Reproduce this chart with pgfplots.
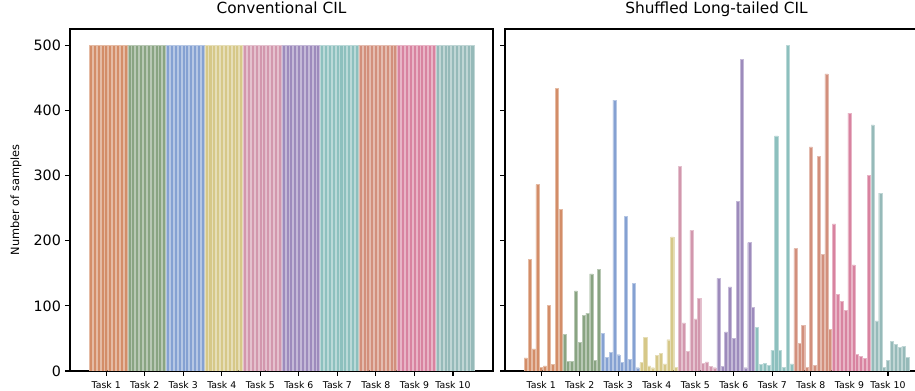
\documentclass[border=0pt]{standalone}
\usepackage{pgfplots}
\pgfplotsset{compat=1.18}
\usepackage{fontspec}
\setmainfont{DejaVu Sans}
\definecolor{t1}{RGB}{211,141,104}
\definecolor{t2}{RGB}{137,164,130}
\definecolor{t3}{RGB}{133,161,210}
\definecolor{t4}{RGB}{214,200,136}
\definecolor{t5}{RGB}{210,151,173}
\definecolor{t6}{RGB}{157,139,188}
\definecolor{t7}{RGB}{141,192,190}
\definecolor{t8}{RGB}{210,143,124}
\definecolor{t9}{RGB}{216,131,160}
\definecolor{t10}{RGB}{150,186,185}
\pgfplotsset{
  cilaxis/.style={
    scale only axis, width=317.25pt, height=256.5pt,
    anchor=south west,
    xmin=-5.39, xmax=104.39, ymin=0, ymax=525,
    xtick={4,14,24,34,44,54,64,74,84,94},
    xticklabels={Task 1,Task 2,Task 3,Task 4,Task 5,Task 6,Task 7,Task 8,Task 9,Task 10},
    ytick={0,100,200,300,400,500},
    xtick pos=bottom, ytick pos=left,
    tick align=outside, major tick length=3.65pt,
    tick style={line width=0.8pt, black},
    axis line style={line width=0.8pt},
    /pgf/number format/assume math mode=true,
    xticklabel style={font=\fontsize{7}{8}\selectfont, inner sep=1pt, yshift=-3pt},
    yticklabel style={font=\fontsize{10.7}{12}\selectfont, inner sep=1pt, xshift=-2pt},
    title style={font=\fontsize{11.5}{13}\selectfont, anchor=base, at={(0.5,1)}, yshift=5.6pt},
    every axis plot/.append style={ybar, bar shift=0pt, bar width=0.8, line width=0.3pt},
  }
}
\begin{document}
\begin{tikzpicture}
\begin{axis}[cilaxis, at={(52.5pt,-278.25pt)}, title={Conventional CIL},
  ylabel={Number of samples},
  ylabel style={font=\fontsize{8.5}{10}\selectfont, at={(axis description cs:-0.1277,0.5)}, anchor=center}]
\addplot[fill=t1, draw=t1!60!white] coordinates {(0,500)(1,500)(2,500)(3,500)(4,500)(5,500)(6,500)(7,500)(8,500)(9,500)};
\addplot[fill=t2, draw=t2!60!white] coordinates {(10,500)(11,500)(12,500)(13,500)(14,500)(15,500)(16,500)(17,500)(18,500)(19,500)};
\addplot[fill=t3, draw=t3!60!white] coordinates {(20,500)(21,500)(22,500)(23,500)(24,500)(25,500)(26,500)(27,500)(28,500)(29,500)};
\addplot[fill=t4, draw=t4!60!white] coordinates {(30,500)(31,500)(32,500)(33,500)(34,500)(35,500)(36,500)(37,500)(38,500)(39,500)};
\addplot[fill=t5, draw=t5!60!white] coordinates {(40,500)(41,500)(42,500)(43,500)(44,500)(45,500)(46,500)(47,500)(48,500)(49,500)};
\addplot[fill=t6, draw=t6!60!white] coordinates {(50,500)(51,500)(52,500)(53,500)(54,500)(55,500)(56,500)(57,500)(58,500)(59,500)};
\addplot[fill=t7, draw=t7!60!white] coordinates {(60,500)(61,500)(62,500)(63,500)(64,500)(65,500)(66,500)(67,500)(68,500)(69,500)};
\addplot[fill=t8, draw=t8!60!white] coordinates {(70,500)(71,500)(72,500)(73,500)(74,500)(75,500)(76,500)(77,500)(78,500)(79,500)};
\addplot[fill=t9, draw=t9!60!white] coordinates {(80,500)(81,500)(82,500)(83,500)(84,500)(85,500)(86,500)(87,500)(88,500)(89,500)};
\addplot[fill=t10, draw=t10!60!white] coordinates {(90,500)(91,500)(92,500)(93,500)(94,500)(95,500)(96,500)(97,500)(98,500)(99,500)};
\end{axis}
\begin{axis}[cilaxis, at={(378.75pt,-278.25pt)}, title={Shuffled Long-tailed CIL}, yticklabels={}]
\addplot[fill=t1, draw=t1!60!white] coordinates {(0,20)(1,171)(2,34)(3,286)(4,6)(5,8)(6,101)(7,10)(8,434)(9,248)};
\addplot[fill=t2, draw=t2!60!white] coordinates {(10,56)(11,15)(12,15)(13,123)(14,44)(15,85)(16,89)(17,149)(18,16)(19,156)};
\addplot[fill=t3, draw=t3!60!white] coordinates {(20,58)(21,21)(22,29)(23,416)(24,25)(25,13)(26,237)(27,18)(28,135)(29,5)};
\addplot[fill=t4, draw=t4!60!white] coordinates {(30,13)(31,52)(32,8)(33,5)(34,24)(35,27)(36,11)(37,48)(38,206)(39,6)};
\addplot[fill=t5, draw=t5!60!white] coordinates {(40,314)(41,74)(42,30)(43,216)(44,80)(45,112)(46,12)(47,14)(48,7)(49,5)};
\addplot[fill=t6, draw=t6!60!white] coordinates {(50,142)(51,7)(52,60)(53,129)(54,50)(55,260)(56,478)(57,5)(58,197)(59,98)};
\addplot[fill=t7, draw=t7!60!white] coordinates {(60,67)(61,10)(62,12)(63,9)(64,32)(65,361)(66,32)(67,6)(68,500)(69,11)};
\addplot[fill=t8, draw=t8!60!white] coordinates {(70,188)(71,42)(72,70)(73,6)(74,344)(75,9)(76,329)(77,179)(78,456)(79,64)};
\addplot[fill=t9, draw=t9!60!white] coordinates {(80,226)(81,118)(82,107)(83,93)(84,396)(85,163)(86,26)(87,23)(88,19)(89,300)};
\addplot[fill=t10, draw=t10!60!white] coordinates {(90,378)(91,77)(92,273)(93,6)(94,16)(95,46)(96,41)(97,36)(98,38)(99,21)};
\end{axis}
\pgfresetboundingbox
\path (0pt,0pt) rectangle (686.25pt,-293.25pt);
\end{tikzpicture}
\end{document}
